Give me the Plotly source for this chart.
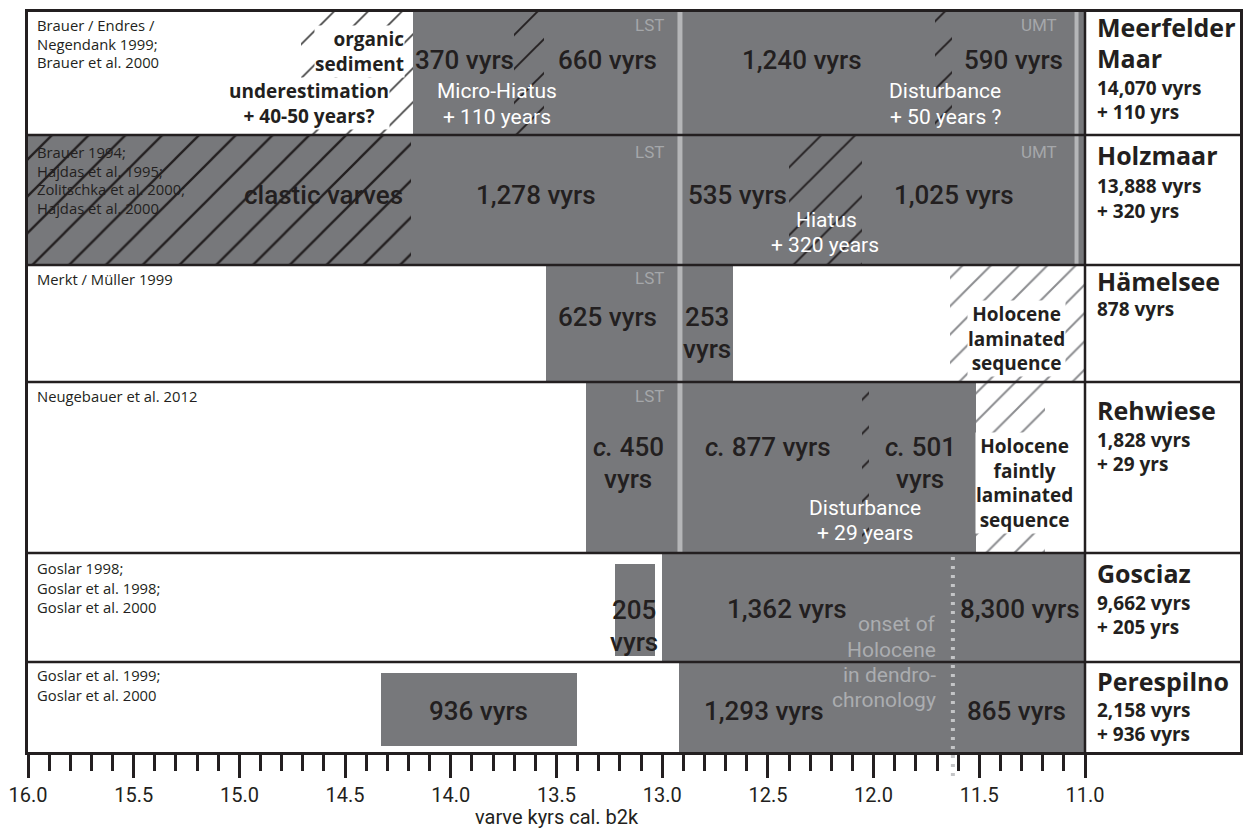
import plotly.graph_objects as go

# ------------------------------------------------------------------ data
site_title_lines = [["Meerfelder", "Maar"], ["Holzmaar"], ["Hämelsee"],
                    ["Rehwiese"], ["Gosciaz"], ["Perespilno"]]
site_counts = ["14,070 vyrs", "13,888 vyrs", "878 vyrs", "1,828 vyrs", "9,662 vyrs", "2,158 vyrs"]
site_additions = ["+ 110 yrs", "+ 320 yrs", "", "+ 29 yrs", "+ 205 yrs", "+ 936 vyrs"]
references = [
    ["Brauer / Endres /", "Negendank 1999;", "Brauer et al. 2000"],
    ["Brauer 1994;", "Hajdas et al. 1995;", "Zolitschka et al. 2000;", "Hajdas et al. 2000"],
    ["Merkt / Müller 1999"],
    ["Neugebauer et al. 2012"],
    ["Goslar 1998;", "Goslar et al. 1998;", "Goslar et al. 2000"],
    ["Goslar et al. 1999;", "Goslar et al. 2000"],
]

# solid varve-counted segments (kyr b2k)
seg_row = [0, 1, 2, 2, 3, 4, 4, 5, 5]
seg_old = [14.18, 14.19, 13.55, 12.916, 13.36, 13.23, 13.00, 14.335, 12.92]
seg_young = [11.00, 11.00, 12.916, 12.665, 11.515, 13.03, 11.00, 13.398, 11.00]
seg_floating = [False, False, False, False, False, True, False, True, False]

# hatched intervals (kyr b2k)
hatch_row = [1, 0, 0, 0, 1, 3, 2, 3]
hatch_old = [16.0, 14.71, 13.70, 11.71, 12.40, 12.055, 11.64, 11.515]
hatch_young = [14.19, 14.18, 13.56, 11.63, 12.055, 12.02, 11.00, 11.19]
hatch_kind = ["clastic", "organic", "hiatus", "hiatus", "hiatus", "hiatus", "holocene", "holocene"]

lst_kyr = 12.916          # Laacher See Tephra
umt_kyr = 11.04           # Ulmener Maar Tephra
holocene_onset = 11.625   # onset of Holocene in dendrochronology

major_ticks = [16.0, 15.5, 15.0, 14.5, 14.0, 13.5, 13.0, 12.5, 12.0, 11.5, 11.0]
tick_labels = ["16.0", "15.5", "15.0", "14.5", "14.0", "13.5", "13.0", "12.5", "12.0", "11.5", "11.0"]
minor_ticks = [round(16.0 - 0.1 * i, 1) for i in range(51) if i % 5]

# ------------------------------------------------------------------ layout / style
W, H = 1243, 830
ML, MR, MT, MB = 28, 3, 12, 78
row_edges = [0, 123, 253, 370, 541, 650, 740]
PX_PER_KYR = 211.4
x_right = 16.0 - (W - ML - MR) / PX_PER_KYR

GRAY = "#77787b"
DARK = "#231f20"
LIGHT = "#b5b6b8"
TAGC = "#a5a7aa"
BLOCK = "Roboto"
BOLD = "Open Sans"

fig = go.Figure()


def rc(r):
    return (row_edges[r] + row_edges[r + 1]) / 2


def rh(r):
    return row_edges[r + 1] - row_edges[r]


# solid segments
ys, ws = [], []
for r, fl in zip(seg_row, seg_floating):
    if fl:
        top, bot = row_edges[r] + 10, row_edges[r + 1] - 5
        ys.append((top + bot) / 2)
        ws.append(bot - top)
    else:
        ys.append(rc(r))
        ws.append(rh(r))
fig.add_trace(go.Bar(
    orientation="h", y=ys, width=ws, base=seg_young,
    x=[o - y for o, y in zip(seg_old, seg_young)],
    marker=dict(color=GRAY, line=dict(color="white", width=[2 if f else 0 for f in seg_floating])),
    hoverinfo="skip", showlegend=False))

hatch_style = {
    "clastic": dict(fg=DARK, bg=GRAY, size=26, sol=0.09),
    "organic": dict(fg="#444444", bg="white", size=24, sol=0.07),
    "hiatus": dict(fg=DARK, bg=GRAY, size=24, sol=0.08),
    "holocene": dict(fg="#8c8d90", bg="white", size=20, sol=0.1),
}
for kind, st in hatch_style.items():
    idx = [i for i, k in enumerate(hatch_kind) if k == kind]
    fig.add_trace(go.Bar(
        orientation="h",
        y=[rc(hatch_row[i]) for i in idx],
        width=[rh(hatch_row[i]) for i in idx],
        base=[hatch_young[i] for i in idx],
        x=[hatch_old[i] - hatch_young[i] for i in idx],
        marker=dict(color=st["bg"], line=dict(width=0),
                    pattern=dict(shape="/", fgcolor=st["fg"], bgcolor=st["bg"],
                                 size=st["size"], solidity=st["sol"], fillmode="replace")),
        hoverinfo="skip", showlegend=False))

# tephra marker lines
fig.add_shape(type="line", x0=lst_kyr, x1=lst_kyr, y0=row_edges[0], y1=row_edges[4],
              line=dict(color=LIGHT, width=5))
fig.add_shape(type="line", x0=umt_kyr, x1=umt_kyr, y0=row_edges[0], y1=row_edges[2],
              line=dict(color=LIGHT, width=4))
# onset of Holocene (dotted, extends into the tick area)
px_onset = (16.0 - holocene_onset) / (16.0 - x_right)
fig.add_shape(type="line", xref="paper", yref="paper", x0=px_onset, x1=px_onset,
              y0=-24 / (H - MT - MB), y1=(row_edges[-1] - row_edges[4]) / row_edges[-1],
              line=dict(color="#c4c5c7", width=4, dash="3px,6px"))

# row separators and panel divider
for e in row_edges[1:-1]:
    fig.add_shape(type="line", xref="paper", x0=0, x1=1, y0=e, y1=e,
                  line=dict(color=DARK, width=2.5))
fig.add_shape(type="line", x0=11.0, x1=11.0, y0=row_edges[0], y1=row_edges[-1],
              line=dict(color=DARK, width=2.5))


def txt(x, y, s, size, color=DARK, family=BLOCK, xanchor="center", bg=None, align="center", weight=None):
    font = dict(size=size, color=color, family=family)
    if weight:
        font["weight"] = weight
    kw = dict(x=x, y=y, xref="x", yref="y", text=s, showarrow=False, font=font,
              xanchor=xanchor, yanchor="middle", align=align, borderpad=0)
    if bg:
        kw["bgcolor"] = bg
    fig.add_annotation(**kw)


# references
ref_y = [[13, 31.5, 50], [140, 158.5, 177, 195.5], [267], [384], [556, 576, 595], [663, 683]]
for lines, yy in zip(references, ref_y):
    for s, y in zip(lines, yy):
        txt(15.962, y, s, 14.8, family=BOLD, xanchor="left")

# right panel
title_y = [[15, 46], [143], [269], [398], [561], [669]]
count_y = [76, 174, 297, 428, 591, 698]
add_y = [100, 199, None, 452, 615, 722]
xr = 10.950
for t_lines, ty, c, cy, a, ay in zip(site_title_lines, title_y, site_counts, count_y, site_additions, add_y):
    for s, y in zip(t_lines, ty):
        txt(xr, y, "<b>" + s + "</b>", 25, family=BOLD, xanchor="left")
    txt(xr, cy, "<b>" + c + "</b>", 19, family=BOLD, xanchor="left")
    if a:
        txt(xr, ay, "<b>" + a + "</b>", 19, family=BOLD, xanchor="left")

# segment labels
big_labels = [
    ("370 vyrs", 13.933, 48), ("660 vyrs", 13.261, 48), ("1,240 vyrs", 12.339, 48), ("590 vyrs", 11.336, 48),
    ("clastic varves", 14.600, 183), ("1,278 vyrs", 13.597, 183), ("535 vyrs", 12.646, 183),
    ("1,025 vyrs", 11.620, 183),
    ("625 vyrs", 13.261, 305), ("253", 12.788, 305), ("vyrs", 12.788, 337),
    ("<i>c.</i> 450", 13.16, 435), ("vyrs", 13.16, 467), ("<i>c.</i> 877 vyrs", 12.50, 435),
    ("<i>c.</i> 501", 11.78, 435), ("vyrs", 11.78, 467),
    ("205", 13.133, 598), ("vyrs", 13.133, 630), ("1,362 vyrs", 12.410, 597), ("8,300 vyrs", 11.307, 597),
    ("936 vyrs", 13.871, 699), ("1,293 vyrs", 12.518, 699), ("865 vyrs", 11.322, 699),
]
for s, x, y in big_labels:
    txt(x, y, s, 26, weight=500)

white_labels = [
    ("Micro-Hiatus", 13.781, 79), ("+ 110 years", 13.781, 105),
    ("Disturbance", 11.662, 79), ("+ 50 years ?", 11.662, 105),
    ("Hiatus", 12.225, 208), ("+ 320 years", 12.23, 233),
    ("Disturbance", 12.04, 496), ("+ 29 years", 12.04, 521),
]
for s, x, y in white_labels:
    txt(x, y, s, 21, color="white")

for y in [13, 140, 266, 384]:
    txt(13.058, y, "LST", 17, color=TAGC)
for y in [13, 140]:
    txt(11.218, y, "UMT", 17, color=TAGC)

txt(14.217, 39.5, "<b>organic<br>sediment</b>", 19, family=BOLD, xanchor="right", bg="white", align="right")
txt(14.671, 91, "<b>underestimation<br>+ 40-50 years?</b>", 19, family=BOLD, bg="white")
txt(11.326, 326, "<b>Holocene<br>laminated<br>sequence</b>", 19, family=BOLD, bg="white")
txt(11.284, 471, "<b>Holocene<br>faintly<br>laminated<br>sequence</b>", 19, family=BOLD, bg="white")

for s, y in zip(["onset of", "Holocene", "in dendro-", "chronology"], [612, 638, 663, 688]):
    txt(11.70, y, s, 21, color="#abadb0", xanchor="right")

fig.add_annotation(x=13.5, xref="x", y=-65 / (H - MT - MB), yref="paper", text="varve kyrs cal. b2k",
                   showarrow=False, font=dict(family=BLOCK, size=20, color=DARK), yanchor="middle")

fig.update_layout(
    width=W, height=H, margin=dict(l=ML, r=MR, t=MT, b=MB, autoexpand=False),
    paper_bgcolor="white", plot_bgcolor="white", barmode="overlay", bargap=0,
    showlegend=False,
    xaxis=dict(range=[16.0, x_right], tickvals=major_ticks, ticktext=tick_labels,
               ticks="outside", ticklen=23, tickwidth=2.5, tickcolor=DARK,
               tickfont=dict(family=BLOCK, size=20, color=DARK), ticklabelstandoff=0,
               showgrid=False, zeroline=False, showline=True, linecolor=DARK, linewidth=2.5,
               mirror=True, fixedrange=True, automargin=False,
               minor=dict(tickvals=minor_ticks, ticks="outside", ticklen=16, tickwidth=2.5,
                          tickcolor=DARK, showgrid=False)),
    yaxis=dict(range=[row_edges[-1], row_edges[0]], showticklabels=False, ticks="",
               showgrid=False, zeroline=False, showline=True, linecolor=DARK, linewidth=2.5,
               mirror=True, fixedrange=True, automargin=False),
)

fig.write_html("out.html", config={"displayModeBar": False},
               post_script="document.body.style.margin='0px';document.body.style.overflow='hidden';")
